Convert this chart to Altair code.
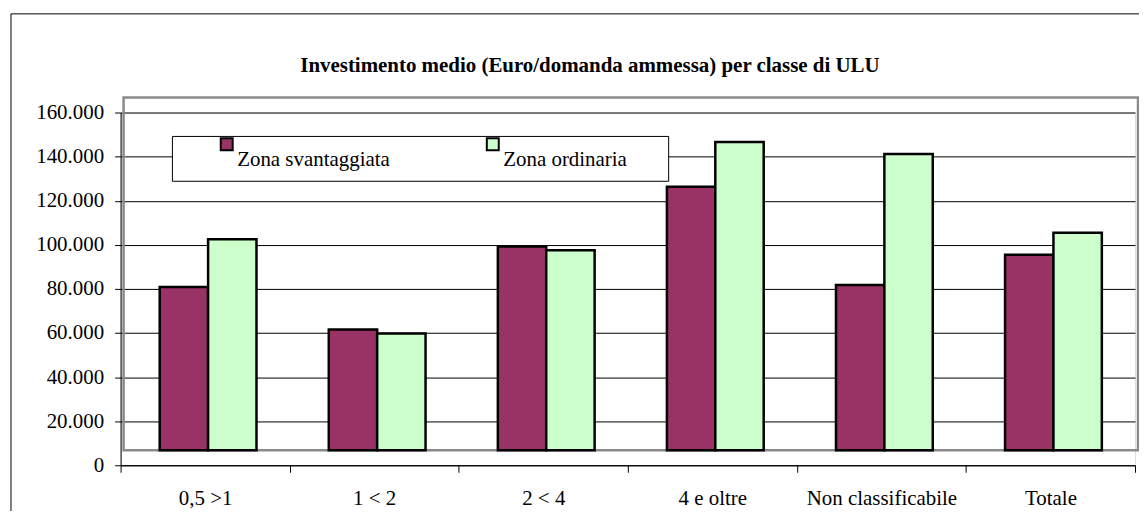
import altair as alt
import pandas as pd

# ---- data ----
categories = ["0,5 >1", "1 < 2", "2 < 4", "4 e oltre", "Non classificabile", "Totale"]
series = ["Zona svantaggiata", "Zona ordinaria"]
svantaggiata = [74100, 54800, 92500, 119600, 75000, 88700]
ordinaria = [95700, 53000, 90700, 139800, 134400, 98700]
y_ticks = [0, 20000, 40000, 60000, 80000, 100000, 120000, 140000, 160000]
colors = ["#993366", "#CCFFCC"]
title_text = "Investimento medio (Euro/domanda ammessa) per classe di ULU"

rows = []
for c, a, b in zip(categories, svantaggiata, ordinaria):
    rows.append({"classe": c, "zona": series[0], "valore": a})
    rows.append({"classe": c, "zona": series[1], "valore": b})
df = pd.DataFrame(rows)
one = pd.DataFrame({"k": [0]})

FONT = "Liberation Serif, Times New Roman, serif"
W, H = 1018, 354

# decorative frames (chart area border, back wall, legend box)
outer = alt.Chart(one).mark_rect(fill=None, stroke="black", strokeWidth=1).encode(
    x=alt.value(-110), x2=alt.value(W + 150), y=alt.value(-99), y2=alt.value(H + 200)
)
wall = alt.Chart(one).mark_rect(fill=None, stroke="#8a8a8a", strokeWidth=2.5).encode(
    x=alt.value(3), x2=alt.value(W + 3), y=alt.value(-15), y2=alt.value(H - 15)
)
legend_box = alt.Chart(one).mark_rect(fill="white", stroke="black", strokeWidth=1).encode(
    x=alt.value(52), x2=alt.value(550), y=alt.value(24), y2=alt.value(69)
)

bars = alt.Chart(df).mark_bar(
    stroke="black", strokeWidth=2.5, yOffset=-15, y2Offset=-15
).encode(
    x=alt.X(
        "classe:N",
        sort=categories,
        scale=alt.Scale(paddingInner=0, paddingOuter=0),
        axis=alt.Axis(
            title=None, labelAngle=0, labelFont=FONT, labelFontSize=21, labelColor="black",
            tickColor="black", tickSize=7, tickBand="extent", domainColor="black",
            labelPadding=15, grid=False, labelLimit=0,
        ),
    ),
    xOffset=alt.XOffset(
        "zona:N", sort=series,
        scale=alt.Scale(paddingInner=0, paddingOuter=0.747, align=0.541),
    ),
    y=alt.Y(
        "valore:Q",
        stack=None,
        scale=alt.Scale(domain=[0, 160000], nice=False, zero=True),
        axis=alt.Axis(
            values=y_ticks, title=None,
            labelExpr="datum.value == 0 ? '0' : replace(format(datum.value, ',d'), ',', '.')",
            labelFont=FONT, labelFontSize=21, labelColor="black", labelPadding=11,
            tickColor="black", tickSize=6, domainColor="black",
            gridColor="black", gridWidth=1, gridOpacity=1,
        ),
    ),
    y2=alt.Y2(datum=0),
    color=alt.Color(
        "zona:N",
        sort=series,
        scale=alt.Scale(domain=series, range=colors),
        legend=alt.Legend(
            title=None, orient="none", legendX=96, legendY=26, direction="horizontal",
            symbolType="M-1,-1.83H1V0.17H-1Z", symbolSize=144, symbolStrokeColor="black",
            symbolStrokeWidth=2, symbolOpacity=1, labelFont=FONT, labelFontSize=21,
            labelColor="black", labelOffset=0, columnPadding=92, padding=0,
            labelBaseline="top", labelLimit=0,
        ),
    ),
)

chart = alt.layer(outer, wall, legend_box, bars).properties(
    width=W,
    height=H,
    title=alt.TitleParams(
        title_text, font=FONT, fontSize=21, fontWeight="bold", color="black",
        anchor="middle", frame="group", dx=-38, dy=80, offset=0, baseline="alphabetic",
    ),
    padding={"left": 113, "top": 104, "right": 4, "bottom": 45},
    autosize=alt.AutoSizeParams(type="none"),
).configure_view(stroke=None).configure(background="white")

chart.save("out.html", embed_options={"renderer": "svg", "actions": False})
